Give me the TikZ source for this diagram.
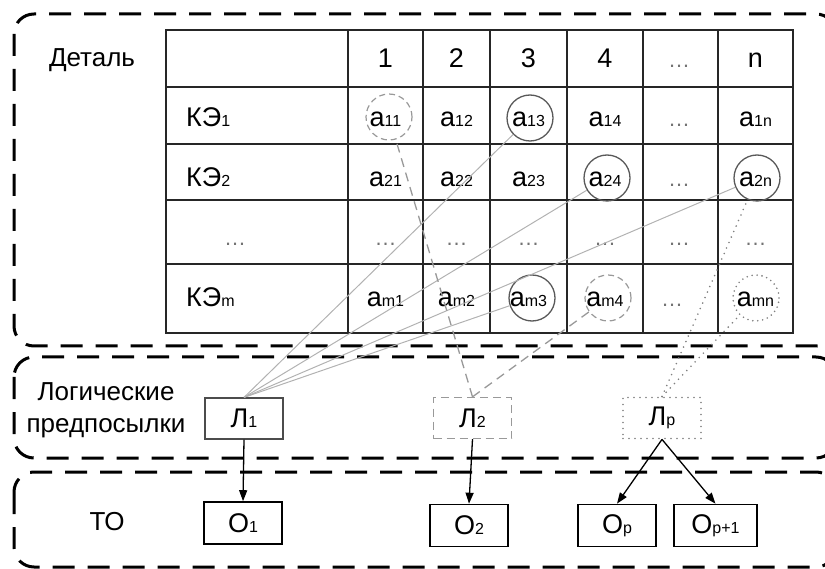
\documentclass[tikz,border=0pt]{standalone}
\usepackage{fontspec}
\setmainfont{Liberation Sans}
\usetikzlibrary{arrows.meta}
\newcommand{\ssub}[1]{{\fontsize{16}{16}\selectfont #1}}
\tikzset{
  sect/.style={line width=3pt, dash pattern=on 22pt off 13pt, rounded corners=20pt},
  gridl/.style={line width=2pt, draw=black!85},
  cell/.style={font=\fontsize{27}{27}\selectfont, inner sep=0pt, anchor=base},
  dots/.style={font=\fontsize{22}{22}\selectfont, text=black!55, inner sep=0pt, anchor=base},
  lbl/.style={font=\fontsize{26}{26}\selectfont, inner sep=0pt, anchor=base},
  cs/.style={circle, draw=black!65, line width=1.3pt, minimum size=46pt, inner sep=0pt},
  cd/.style={circle, draw=black!40, line width=1.2pt, dash pattern=on 6pt off 4pt, minimum size=46pt, inner sep=0pt},
  cdot/.style={circle, draw=black!50, line width=1.8pt, line cap=round, dash pattern=on 0pt off 5pt, minimum size=46pt, inner sep=0pt},
  lbox/.style={font=\fontsize{27}{27}\selectfont, minimum width=78pt, minimum height=41pt, inner sep=0pt},
  obox/.style={draw=black, line width=1.6pt, font=\fontsize{27}{27}\selectfont, minimum width=78pt, minimum height=42pt, inner sep=0pt},
  gline/.style={draw=black!30, line width=1pt},
  dline/.style={draw=black!40, line width=1.3pt, dash pattern=on 9pt off 6pt},
  pline/.style={draw=black!50, line width=1.8pt, line cap=round, dash pattern=on 0pt off 6pt},
  arr/.style={draw=black, line width=1.3pt, -{Triangle[length=11pt,width=8pt]}}
}
\begin{document}
\begin{tikzpicture}[x=1pt,y=-1pt]
\useasboundingbox (0,0) rectangle (825,569);
\begin{scope}
\clip (0,0) rectangle (825,569);
\draw[sect] (14,14) rectangle (836,346);
\draw[sect] (14,357) rectangle (836,458);
\draw[sect] (14,472) rectangle (836,567);
\end{scope}

% table
\draw[gridl] (166,30) rectangle (793,333);
\foreach \x in {348,423,490,567,643,718} \draw[gridl] (\x,30) -- (\x,333);
\foreach \y in {87,144,200,264} \draw[gridl] (166,\y) -- (793,\y);

% labels
\node[lbl] (det) at (92,67) {Деталь};
\node[lbl] (log1) at (106,400) {Логические};
\node[lbl] (log2) at (106,432) {предпосылки};
\node[lbl] (to) at (107,530) {ТО};

% header
\node[cell] (h1) at (385.5,68) {1};
\node[cell] (h2) at (456.5,68) {2};
\node[cell] (h3) at (528.5,68) {3};
\node[cell] (h4) at (605,68) {4};
\node[dots] (h5) at (679,68) {…};
\node[cell] (h6) at (755.5,68) {n};

% row labels
\node[cell, anchor=base west] (k1) at (186,127) {КЭ\ssub{1}};
\node[cell, anchor=base west] (k2) at (186,187) {КЭ\ssub{2}};
\node[dots] (k3) at (235,246) {…};
\node[cell, anchor=base west] (km) at (186,307) {КЭ\ssub{m}};

% cells
\foreach \c/\x in {1/385.5,2/456.5,3/528.5,4/605}{
  \node[cell] (a1\c) at (\x,127) {a\ssub{1\c}};
  \node[cell] (a2\c) at (\x,187) {a\ssub{2\c}};
  \node[dots] (a3\c) at (\x,246) {…};
  \node[cell] (am\c) at (\x,307) {a\ssub{m\c}};
}
\node[dots] (a15) at (679,127) {…};
\node[dots] (a25) at (679,187) {…};
\node[dots] (a35) at (679,246) {…};
\node[dots] (am5) at (672,307) {…};
\node[cell] (a1n) at (755.5,127) {a\ssub{1n}};
\node[cell] (a2n) at (755.5,187) {a\ssub{2n}};
\node[dots] (a3n) at (755.5,246) {…};
\node[cell] (amn) at (755.5,307) {a\ssub{mn}};

% circles
\node[cd] (c11) at (389,117) {};
\node[cs] (c13) at (530,118) {};
\node[cs] (c24) at (607,178) {};
\node[cs] (c2n) at (757,178) {};
\node[cs] (cm3) at (532,298) {};
\node[cd] (cm4) at (608,298) {};
\node[cdot] (cmn) at (756,298) {};

% boxes
\node[lbox, draw=black!70, line width=1.2pt] (L1) at (244,418.5) {Л\ssub{1}};
\node[lbox, draw=black!40, line width=1.3pt, dash pattern=on 8pt off 5pt] (L2) at (472.5,418) {Л\ssub{2}};
\node[lbox, draw=black!50, line width=1.8pt, line cap=round, dash pattern=on 0pt off 6pt] (Lp) at (662,418) {Л\ssub{p}};
\node[obox] (O1) at (243,523) {О\ssub{1}};
\node[obox] (O2) at (469,525.5) {О\ssub{2}};
\node[obox] (Op) at (617,525.5) {О\ssub{p}};
\node[obox, minimum width=83pt] (Op1) at (715.5,525.5) {О\ssub{p+1}};

% connectors
\draw[gline] (L1.north) -- (c13);
\draw[gline] (L1.north) -- (c24);
\draw[gline] (L1.north) -- (c2n);
\draw[gline] (L1.north) -- (cm3);
\draw[dline] (L2.north) -- (c11);
\draw[dline] (L2.north) -- (cm4);
\draw[pline] (Lp.north) -- (c2n);
\draw[pline] (Lp.north) -- (cmn);

% arrows
\draw[arr] (L1.south) -- (O1.north);
\draw[arr] (L2.south) -- (O2.north);
\draw[arr] (Lp.south) -- (Op.north);
\draw[arr] (Lp.south) -- (Op1.north);
\end{tikzpicture}
\end{document}
